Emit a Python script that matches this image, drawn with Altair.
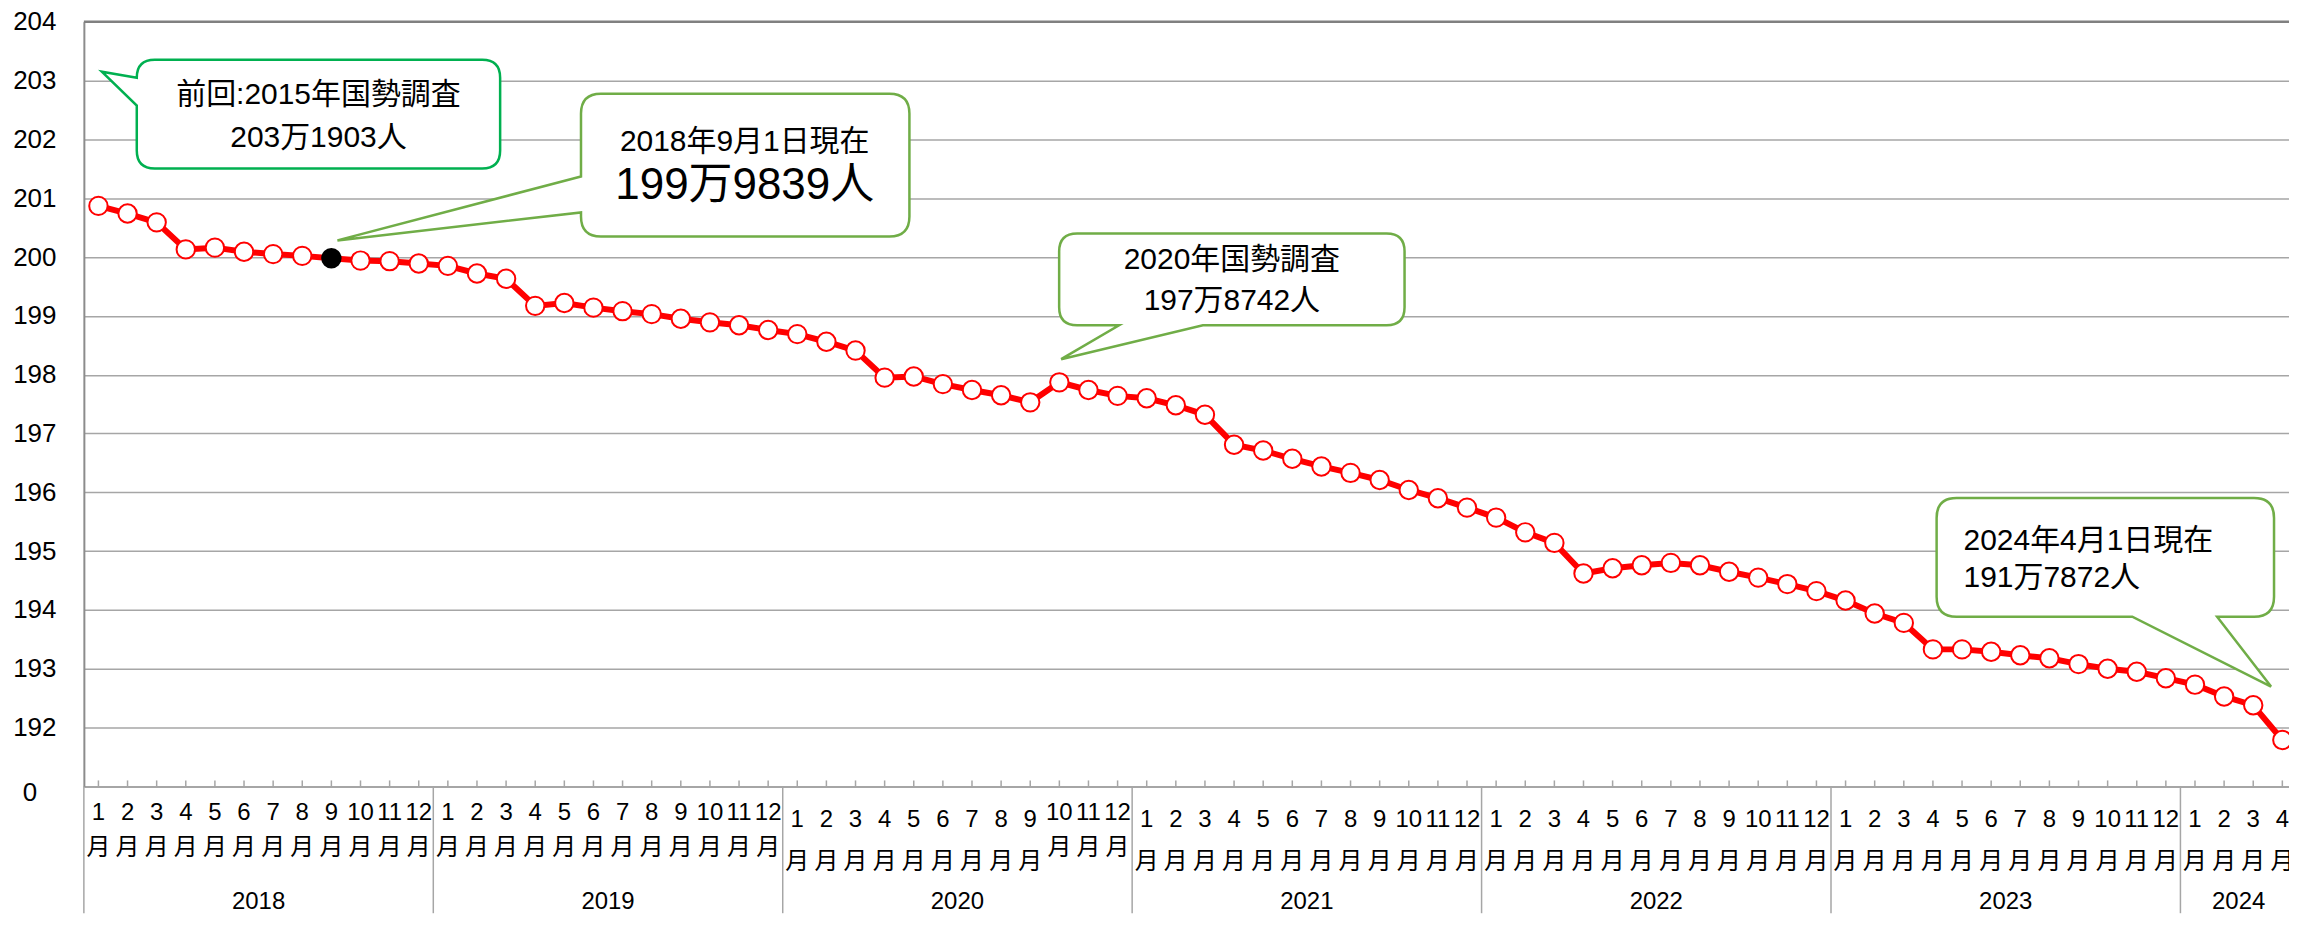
import altair as alt
import pandas as pd

# ---------------- data ----------------
years = [2018] * 12 + [2019] * 12 + [2020] * 12 + [2021] * 12 + [2022] * 12 + [2023] * 12 + [2024] * 4
months = list(range(1, 13)) * 6 + [1, 2, 3, 4]
population = [
    200.87, 200.74, 200.59, 200.13, 200.16, 200.09, 200.05, 200.02, 199.98, 199.94, 199.93, 199.89,
    199.85, 199.72, 199.63, 199.17, 199.22, 199.14, 199.08, 199.03, 198.95, 198.89, 198.84, 198.76,
    198.69, 198.56, 198.41, 197.95, 197.97, 197.84, 197.74, 197.65, 197.53, 197.87, 197.74, 197.64,
    197.60, 197.48, 197.32, 196.81, 196.71, 196.57, 196.44, 196.33, 196.21, 196.04, 195.90, 195.74,
    195.57, 195.32, 195.14, 194.62, 194.71, 194.76, 194.80, 194.76, 194.65, 194.55, 194.44, 194.32,
    194.16, 193.94, 193.78, 193.33, 193.33, 193.29, 193.23, 193.18, 193.08, 193.00, 192.95, 192.84,
    192.73, 192.53, 192.38, 191.79,
]
highlight = (2018, 9)
year_names = ["2018", "2019", "2020", "2021", "2022", "2023", "2024"]
year_lengths = [12, 12, 12, 12, 12, 12, 4]
y_ticks = list(range(191, 205))

callout_lines = [
    (0, "前回:2015年国勢調査", 30),
    (0, "203万1903人", 30),
    (1, "2018年9月1日現在", 30),
    (1, "199万9839人", 44),
    (2, "2020年国勢調査", 30),
    (2, "197万8742人", 30),
    (3, "2024年4月1日現在", 30),
    (3, "191万7872人", 30),
]

# ---------------- layout / style ----------------
FONT = "'Liberation Sans', 'Noto Sans CJK JP', sans-serif"
W, H = 2209, 766
PAD_L, PAD_T, PAD_R, PAD_B = 76, 13, 0, 127
MONTH_W = 29.17
XMAX = W / MONTH_W
GRID = "#A6A6A6"

df = pd.DataFrame({"year": years, "month": months, "pop": population})
df["xpos"] = [i + 0.5 for i in range(len(df))]
df["hl"] = [(y, m) == highlight for y, m in zip(years, months)]
df["mlabel"] = [str(m) for m in months]
df["tsuki"] = "月"

starts, centers = [], []
s = 0
for n in year_lengths:
    starts.append(s)
    centers.append(s + n / 2)
    s += n
ydf = pd.DataFrame({"year": year_names, "start": starts, "center": centers})

x_scale = alt.Scale(domain=[0, XMAX], nice=False, zero=False)
y_scale = alt.Scale(domain=[191, 204], nice=False, zero=False)

x_axis = alt.Axis(labels=False, ticks=False, grid=False, domainColor=GRID, domainWidth=2, title=None)
y_axis = alt.Axis(
    values=y_ticks,
    labelExpr="datum.value == 191 ? '' : format(datum.value, 'd')",
    labelFontSize=26, labelPadding=28, ticks=False,
    domainColor="#8C8C8C", domainWidth=2, gridColor=GRID, gridWidth=1.5,
    title=None, labelColor="black", labelFont=FONT,
)

base = alt.Chart(df)
line = base.mark_line(color="#FF0000", strokeWidth=6).encode(
    x=alt.X("xpos:Q", scale=x_scale, axis=x_axis),
    y=alt.Y("pop:Q", scale=y_scale, axis=y_axis),
)
points = base.mark_point(filled=True, size=340, strokeWidth=2, opacity=1).encode(
    x=alt.X("xpos:Q", scale=x_scale),
    y=alt.Y("pop:Q", scale=y_scale),
    fill=alt.condition("datum.hl", alt.value("black"), alt.value("white")),
    stroke=alt.condition("datum.hl", alt.value("black"), alt.value("#FF0000")),
)
ticks = base.mark_rule(color=GRID, strokeWidth=1.5).encode(
    x=alt.X("xpos:Q", scale=x_scale), y=alt.value(H - 6), y2=alt.value(H)
)

# month labels (two rows: number, then 月); Excel wraps some groups a little lower
HIGH = "datum.year < 2020 || (datum.year == 2020 && datum.month >= 10)"
LOW = "!(" + HIGH + ")"
month_layers = []
for test, ny, ty in [(HIGH, 793, 828), (LOW, 800, 842)]:
    month_layers.append(
        base.transform_filter(test).mark_text(fontSize=24, font=FONT, baseline="middle", color="black")
        .encode(x=alt.X("xpos:Q", scale=x_scale), y=alt.value(ny), text="mlabel:N")
    )
    month_layers.append(
        base.transform_filter(test).mark_text(fontSize=24, font=FONT, baseline="middle", color="black")
        .encode(x=alt.X("xpos:Q", scale=x_scale), y=alt.value(ty), text="tsuki:N")
    )

top_rule = alt.Chart(pd.DataFrame({"v": [204]})).mark_rule(color="#808080", strokeWidth=2.5).encode(
    y=alt.Y("v:Q", scale=y_scale)
)
seps = alt.Chart(ydf).mark_rule(color=GRID, strokeWidth=1.5).encode(
    x=alt.X("start:Q", scale=x_scale), y=alt.value(H), y2=alt.value(H + PAD_B)
)
year_text = alt.Chart(ydf).mark_text(fontSize=24, font=FONT, baseline="middle", color="black").encode(
    x=alt.X("center:Q", scale=x_scale), y=alt.value(882), text="year:N"
)
zero_text = alt.Chart(pd.DataFrame({"t": ["0"]})).mark_text(
    fontSize=26, font=FONT, baseline="middle", align="center", color="black"
).encode(x=alt.value(-54), y=alt.value(H + 7), text="t:N")


# ---------------- callouts (annotation shapes, in pixel space) ----------------
def callout_path(x0, y0, x1, y1, r, side, b1, tip, b2):
    """Rounded box with a pointer tail. side 'left': b1 lower base y, b2 upper base y.
    side 'bottom': b1 right base x, b2 left base x."""
    p = ["M%.1f,%.1f" % (x0 + r, y0), "L%.1f,%.1f" % (x1 - r, y0),
         "Q%.1f,%.1f %.1f,%.1f" % (x1, y0, x1, y0 + r), "L%.1f,%.1f" % (x1, y1 - r),
         "Q%.1f,%.1f %.1f,%.1f" % (x1, y1, x1 - r, y1)]
    if side == "bottom":
        p += ["L%.1f,%.1f" % (b1, y1), "L%.1f,%.1f" % tip, "L%.1f,%.1f" % (b2, y1)]
    p += ["L%.1f,%.1f" % (x0 + r, y1), "Q%.1f,%.1f %.1f,%.1f" % (x0, y1, x0, y1 - r)]
    if side == "left":
        p += ["L%.1f,%.1f" % (x0, b1), "L%.1f,%.1f" % tip, "L%.1f,%.1f" % (x0, b2)]
    p += ["L%.1f,%.1f" % (x0, y0 + r), "Q%.1f,%.1f %.1f,%.1f" % (x0, y0, x0 + r, y0), "Z"]
    return " ".join(p)


boxes = [
    dict(path=callout_path(53, 38, 417, 147, 18, "left", 84, (18, 50), 56), color="#00B050"),
    dict(path=callout_path(498, 72, 827, 215, 20, "left", 191, (254, 219), 155), color="#70AD47"),
    dict(path=callout_path(977, 212, 1323, 304, 18, "bottom", 1121, (979, 338), 1037), color="#70AD47"),
    dict(path=callout_path(1856, 477, 2194, 596, 20, "bottom", 2137, (2191, 666), 2052), color="#70AD47"),
]
text_pos = [  # (x, y, align) per line
    (235, 73, "center"), (235, 116, "center"),
    (662, 120, "center"), (662, 165, "center"),
    (1150, 239, "center"), (1150, 280, "center"),
    (1883, 520, "left"), (1883, 557, "left"),
]

layers = [top_rule, ticks, seps, line, points, year_text, zero_text] + month_layers
for b in boxes:
    layers.append(
        alt.Chart(pd.DataFrame({"k": [0]})).mark_point(
            shape=b["path"], size=4, filled=True, fill="white", stroke=b["color"],
            strokeWidth=2.5, opacity=1,
        ).encode(x=alt.value(0), y=alt.value(0))
    )
for (ci, txt, fs), (tx, ty, al) in zip(callout_lines, text_pos):
    layers.append(
        alt.Chart(pd.DataFrame({"t": [txt]})).mark_text(
            fontSize=fs, font=FONT, align=al, baseline="middle", color="black"
        ).encode(x=alt.value(tx), y=alt.value(ty), text="t:N")
    )

chart = alt.layer(*layers).properties(
    width=W, height=H,
    autosize=alt.AutoSizeParams(type="none"),
    padding={"left": PAD_L, "top": PAD_T, "right": PAD_R, "bottom": PAD_B},
    background="white",
).configure_view(strokeWidth=0)

chart.save("out.html", embed_options={"renderer": "svg", "actions": False})
